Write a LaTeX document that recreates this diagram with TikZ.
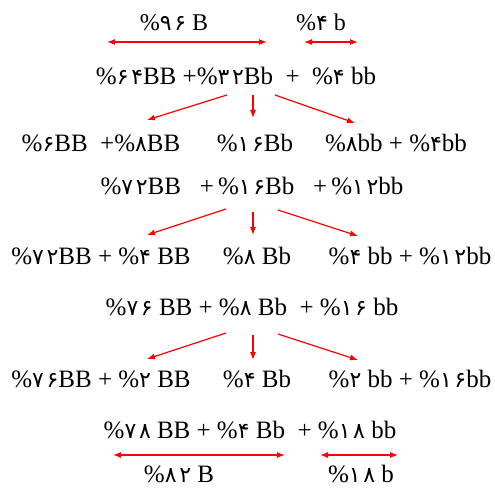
\documentclass[tikz,border=0pt]{standalone}
\usepackage{fontspec}
\setmainfont{Liberation Serif}
\newfontfamily\fafont[LetterSpace=12]{DejaVu Sans}
\usetikzlibrary{arrows.meta}
\newcommand\fd[1]{{\fafont\fontsize{22}{24}\selectfont #1}}
\tikzset{
  lbl/.style={anchor=base, inner sep=0pt, font=\fontsize{25}{28}\selectfont},
  small/.style={anchor=base, inner sep=0pt, font=\fontsize{24}{26}\selectfont},
  rarr/.style={draw=red, line width=1.2pt, -{Latex[length=8pt,width=6pt]}},
  darr/.style={draw=red, line width=1.2pt, {Latex[length=8pt,width=6pt]}-{Latex[length=8pt,width=6pt]}}
}
\begin{document}
\begin{tikzpicture}[x=1pt,y=1pt]
\useasboundingbox (0,0) rectangle (495,488);
% row 0
\node[small] (r0a) at (174,457) {\%\fd{۹۶} B};
\node[small] (r0b) at (321,457) {\%\fd{۴} b};
\coordinate (a0l) at (107,446); \coordinate (a0r) at (267,446);
\coordinate (b0l) at (304,446); \coordinate (b0r) at (358,446);
\draw[darr] (a0l) -- (a0r);
\draw[darr] (b0l) -- (b0r);
% row 1
\node[lbl] (r1) at (236,403) {\%\fd{۶۴}BB +\%\fd{۳۲}Bb\ \ +\ \ \%\fd{۴} bb};
\coordinate (s1a) at (227,393); \coordinate (e1a) at (147,368);
\coordinate (s1b) at (253,393); \coordinate (e1b) at (253,370);
\coordinate (s1c) at (275,393); \coordinate (e1c) at (355,365);
\draw[rarr] (s1a) -- (e1a);
\draw[rarr] (s1b) -- (e1b);
\draw[rarr] (s1c) -- (e1c);
% row 2
\node[lbl] (r2a) at (101,336) {\%\fd{۶}BB\ \ +\%\fd{۸}BB};
\node[lbl] (r2b) at (255,336) {\%\fd{۱۶}Bb};
\node[lbl] (r2c) at (396,336) {\%\fd{۸}bb + \%\fd{۴}bb};
% row 3
\node[lbl] (r3) at (252,293) {\%\fd{۷۲}BB\ \ \ +\,\%\fd{۱۶}Bb\ \ \ +\,\%\fd{۱۲}bb};
\coordinate (s3a) at (226,279); \coordinate (e3a) at (147,253);
\coordinate (s3b) at (253,276); \coordinate (e3b) at (253,253);
\coordinate (s3c) at (278,278); \coordinate (e3c) at (358,252);
\draw[rarr] (s3a) -- (e3a);
\draw[rarr] (s3b) -- (e3b);
\draw[rarr] (s3c) -- (e3c);
% row 4
\node[lbl] (r4a) at (101,224) {\%\fd{۷۲}BB + \%\fd{۴} BB};
\node[lbl] (r4b) at (257,224) {\%\fd{۸} Bb};
\node[lbl] (r4c) at (410,224) {\%\fd{۴} bb + \%\fd{۱۲}bb};
% row 5
\node[lbl] (r5) at (252,173) {\%\fd{۷۶} BB + \%\fd{۸} Bb\ \ + \%\fd{۱۶} bb};
\coordinate (s5a) at (226,155); \coordinate (e5a) at (147,129);
\coordinate (s5b) at (253,153); \coordinate (e5b) at (253,128);
\coordinate (s5c) at (278,154); \coordinate (e5c) at (358,128);
\draw[rarr] (s5a) -- (e5a);
\draw[rarr] (s5b) -- (e5b);
\draw[rarr] (s5c) -- (e5c);
% row 6
\node[lbl] (r6a) at (101,101) {\%\fd{۷۶}BB + \%\fd{۲} BB};
\node[lbl] (r6b) at (257,101) {\%\fd{۴} Bb};
\node[lbl] (r6c) at (410,101) {\%\fd{۲} bb + \%\fd{۱۶}bb};
% row 7
\node[lbl] (r7) at (250,50) {\%\fd{۷۸} BB + \%\fd{۴} Bb\ \ + \%\fd{۱۸} bb};
\coordinate (a7l) at (113,33); \coordinate (a7r) at (285,33);
\coordinate (b7l) at (320,33); \coordinate (b7r) at (398,33);
\draw[darr] (a7l) -- (a7r);
\draw[darr] (b7l) -- (b7r);
% row 8
\node[lbl] (r8a) at (179,6) {\%\fd{۸۲} B};
\node[lbl] (r8b) at (361,6) {\%\fd{۱۸} b};
\end{tikzpicture}
\end{document}
